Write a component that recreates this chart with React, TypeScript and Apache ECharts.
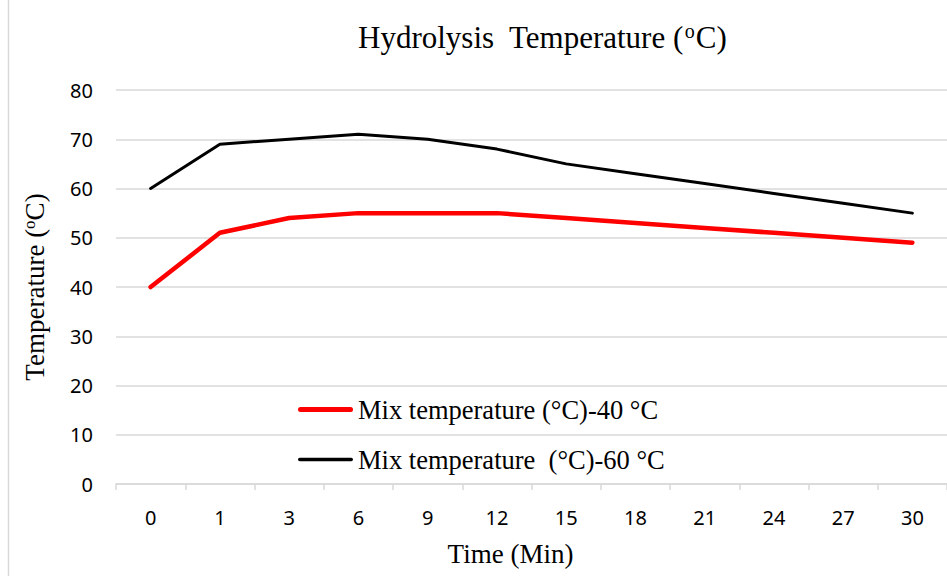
import React, { useEffect, useRef } from "react";
import * as echarts from "echarts";

const categories = ["0", "1", "3", "6", "9", "12", "15", "18", "21", "24", "27", "30"];
const mix40 = [40, 51, 54, 55, 55, 55, 54, 53, 52, 51, 50, 49];
const mix60 = [60, 69, 70, 71, 70, 68, 65, 63, 61, 59, 57, 55];
const seriesNames = ["Mix temperature (°C)-40 °C", "Mix temperature  (°C)-60 °C"];

const serif = "'Liberation Serif', 'Times New Roman', serif";
const sans = "'Noto Sans', 'Open Sans', sans-serif";

const redIcon = "path://M2.5,0H52.5A2.5,2.5,0,0,1,52.5,5H2.5A2.5,2.5,0,0,1,2.5,0Z";
const blackIcon = "path://M1.75,0H53.25A1.75,1.75,0,0,1,53.25,3.5H1.75A1.75,1.75,0,0,1,1.75,0Z";

export default function App() {
  const ref = useRef<HTMLDivElement>(null);
  useEffect(() => {
    if (!ref.current) return;
    const chart = echarts.init(ref.current, null, { renderer: "svg" });
    chart.setOption({
      animation: false,
      backgroundColor: "#ffffff",
      title: {
        text: "Hydrolysis  Temperature ({sup|o}C)",
        left: 353,
        top: 16,
        textStyle: {
          fontFamily: serif,
          fontSize: 31,
          fontWeight: "normal",
          color: "#000",
          rich: {
            sup: { fontFamily: serif, fontSize: 20, verticalAlign: "top", padding: [0, 1, 12, 1], color: "#000" },
          },
        },
      },
      graphic: [
        {
          type: "line",
          shape: { x1: 8.5, y1: 0, x2: 8.5, y2: 576 },
          style: { stroke: "#d9d9d9", lineWidth: 1.5 },
          silent: true,
        },
      ],
      legend: {
        orient: "vertical",
        left: 293,
        top: 391,
        itemGap: 23,
        itemWidth: 55,
        itemHeight: 12,
        symbolKeepAspect: true,
        textStyle: { fontFamily: serif, fontSize: 26.5, color: "#000" },
        data: [
          { name: seriesNames[0], icon: redIcon, itemStyle: { color: "#ff0000" } },
          { name: seriesNames[1], icon: blackIcon, itemStyle: { color: "#000000" } },
        ],
      },
      grid: { left: 116, top: 90, width: 834, height: 394 },
      xAxis: {
        type: "category",
        data: categories,
        boundaryGap: true,
        name: "Time (Min)",
        nameLocation: "middle",
        nameGap: 56,
        nameTextStyle: { fontFamily: serif, fontSize: 27, color: "#000", padding: [0, 42, 0, 0] },
        axisLine: { lineStyle: { color: "#d9d9d9", width: 1.5 } },
        axisTick: { show: true, length: 6, alignWithLabel: false, lineStyle: { color: "#d9d9d9", width: 1.5 } },
        axisLabel: { fontFamily: sans, fontSize: 20, color: "#000", margin: 23 },
        splitLine: { show: false },
      },
      yAxis: {
        type: "value",
        min: 0,
        max: 80,
        interval: 10,
        name: "Temperature ({sup|o}C)",
        nameLocation: "middle",
        nameRotate: 90,
        nameGap: 68,
        nameTextStyle: {
          fontFamily: serif,
          fontSize: 27,
          color: "#000",
          rich: {
            sup: { fontFamily: serif, fontSize: 17, verticalAlign: "top", padding: [0, 0, 10, 0], color: "#000" },
          },
        },
        axisLine: { show: false },
        axisTick: { show: false },
        axisLabel: { fontFamily: sans, fontSize: 20, color: "#000", margin: 23 },
        splitLine: { lineStyle: { color: "#d9d9d9", width: 1.5 } },
      },
      series: [
        {
          name: seriesNames[0],
          type: "line",
          data: mix40,
          showSymbol: false,
          symbol: "none",
          lineStyle: { color: "#ff0000", width: 4.5, cap: "round", join: "round" },
          itemStyle: { color: "#ff0000" },
          z: 3,
        },
        {
          name: seriesNames[1],
          type: "line",
          data: mix60,
          showSymbol: false,
          symbol: "none",
          lineStyle: { color: "#000000", width: 3, cap: "round", join: "round" },
          itemStyle: { color: "#000000" },
          z: 2,
        },
      ],
    });
    return () => chart.dispose();
  }, []);
  return (
    <div
      ref={ref}
      style={{ position: "fixed", left: 0, top: 0, width: 947, height: 576, background: "#fff" }}
    />
  );
}
